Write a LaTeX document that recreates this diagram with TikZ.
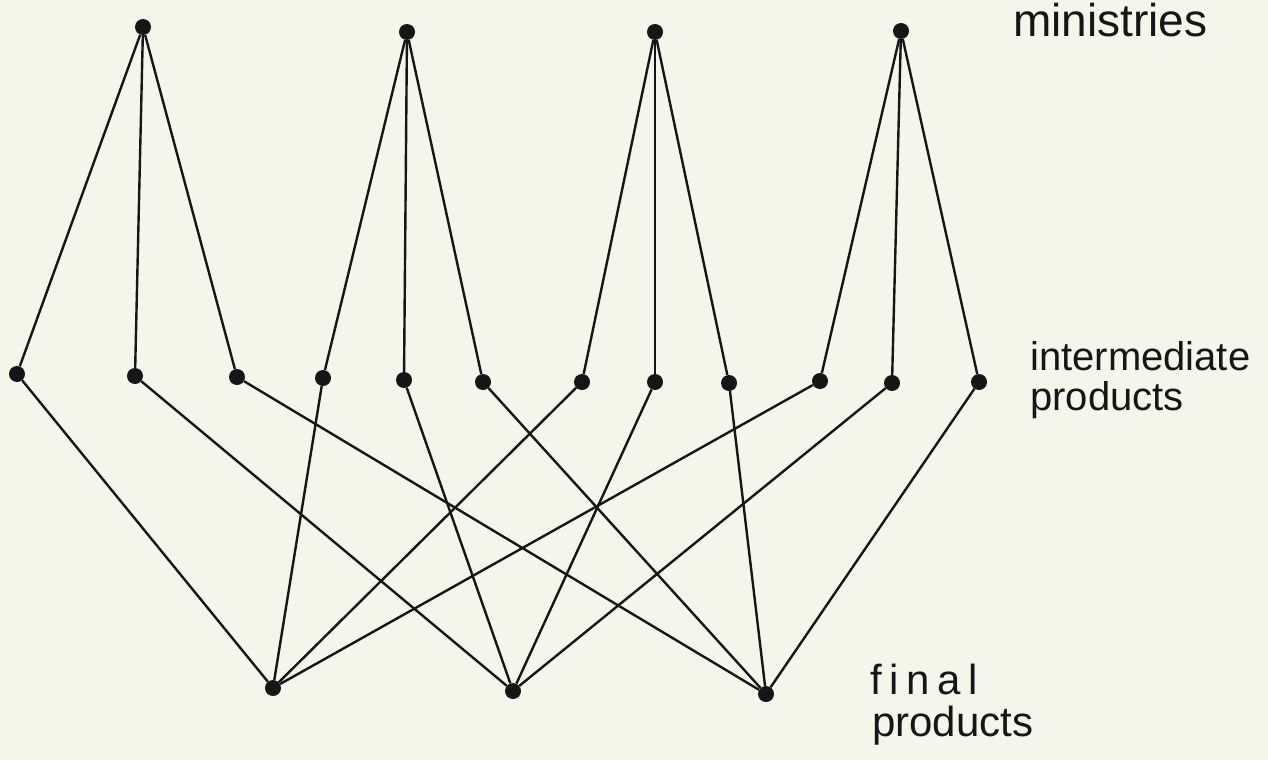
\documentclass[tikz,border=0pt]{standalone}
\usepackage{fontspec}
\setmainfont{Liberation Sans}
\definecolor{paper}{RGB}{244,246,236}
\definecolor{ink}{RGB}{22,22,22}
\tikzset{
  dot/.style={circle,fill=ink,draw=none,inner sep=0pt,minimum size=16pt},
  link/.style={draw=ink,line width=2.4pt},
  lab/.style={anchor=base west,inner sep=0pt,text=ink,font=\fontsize{40}{40}\selectfont}
}
\begin{document}
\begin{tikzpicture}[x=1pt,y=-1pt]
\fill[paper] (0,0) rectangle (1268,760);
\useasboundingbox (0,0) rectangle (1268,760);
% ministries
\node[dot] (m1) at (143,27) {};
\node[dot] (m2) at (407,32) {};
\node[dot] (m3) at (655,32) {};
\node[dot] (m4) at (901,31) {};
% intermediate
\node[dot] (i1) at (17,374) {};
\node[dot] (i2) at (135,376) {};
\node[dot] (i3) at (237,377) {};
\node[dot] (i4) at (323,378) {};
\node[dot] (i5) at (404,380) {};
\node[dot] (i6) at (483,382) {};
\node[dot] (i7) at (582,382) {};
\node[dot] (i8) at (655,382) {};
\node[dot] (i9) at (729,383) {};
\node[dot] (i10) at (820,381) {};
\node[dot] (i11) at (892,383) {};
\node[dot] (i12) at (979,382) {};
% final
\node[dot] (f1) at (273,688) {};
\node[dot] (f2) at (513,691) {};
\node[dot] (f3) at (766,694) {};
% labels
\node[lab,font=\fontsize{46}{46}\selectfont] (lm) at (1013,37) {ministries};
\node[lab] (li1) at (1030,370) {intermediate};
\node[lab] (li2) at (1030,410) {products};
\node[lab,font=\fontsize{42}{42}\selectfont\addfontfeature{LetterSpace=18}] (lf1) at (870,694) {final};
\node[lab,font=\fontsize{42}{42}\selectfont] (lf2) at (872,736) {products};
% edges ministries -> intermediate
\foreach \m/\a/\b/\c in {m1/i1/i2/i3, m2/i4/i5/i6, m3/i7/i8/i9, m4/i10/i11/i12}{
  \draw[link] (\m) -- (\a);
  \draw[link] (\m) -- (\b);
  \draw[link] (\m) -- (\c);
}
% edges intermediate -> final
\foreach \i/\f in {i1/f1, i2/f2, i3/f3, i4/f1, i5/f2, i6/f3, i7/f1, i8/f2, i9/f3, i10/f1, i11/f2, i12/f3}{
  \draw[link] (\i) -- (\f);
}
\end{tikzpicture}
\end{document}
